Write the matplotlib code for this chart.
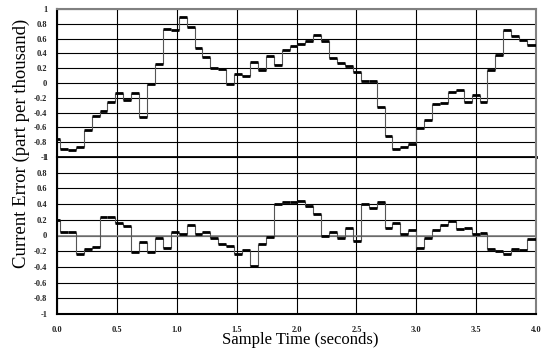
import numpy as np
import matplotlib
matplotlib.use("Agg")
import matplotlib.pyplot as plt

# sampling schedule of the stepped signal (seconds)
step_start = 0.025
step_len = 0.0661
t_end = 4.0

# top panel: step levels (part per thousand)
top_levels = [-0.754,
              -0.89, -0.91, -0.87, -0.63, -0.45, -0.38, -0.25, -0.135, -0.225, -0.135,
              -0.465, -0.01, 0.26, 0.73, 0.71, 0.894, 0.754, 0.474, 0.352, 0.203,
              0.195, -0.02, 0.122, 0.09, 0.284, 0.17, 0.36, 0.24, 0.44, 0.497,
              0.53, 0.573, 0.645, 0.564, 0.34, 0.27, 0.226, 0.153, 0.03, 0.03,
              -0.325, -0.72, -0.89, -0.87, -0.826, -0.61, -0.497, -0.284, -0.27, -0.122,
              -0.09, -0.25, -0.158, -0.26, 0.17, 0.375, 0.71, 0.64, 0.587, 0.51]

# bottom panel: step levels (part per thousand)
bottom_levels = [0.2,
                 0.043, 0.043, -0.24, -0.17, -0.15, 0.234, 0.234, 0.157, 0.12, -0.21,
                 -0.085, -0.21, -0.03, -0.16, 0.04, 0.02, 0.14, 0.02, 0.04, -0.034,
                 -0.105, -0.14, -0.234, -0.19, -0.39, -0.106, -0.02, 0.396, 0.425, 0.43,
                 0.44, 0.375, 0.27, 0.0, 0.04, -0.035, 0.1, -0.065, 0.40, 0.35,
                 0.43, 0.1, 0.16, 0.02, 0.064, -0.16, -0.03, 0.064, 0.128, 0.19,
                 0.085, 0.1, 0.013, 0.034, -0.17, -0.2, -0.24, -0.17, -0.19, -0.047]

x_ticks = [0.0, 0.5, 1.0, 1.5, 2.0, 2.5, 3.0, 3.5, 4.0]
x_tick_labels = ["0.0", "0.5", "1.0", "1.5", "2.0", "2.5", "3.0", "3.5", "4.0"]
y_ticks = [-1, -0.8, -0.6, -0.4, -0.2, 0, 0.2, 0.4, 0.6, 0.8, 1]
y_tick_labels = ["-1", "-0.8", "-0.6", "-0.4", "-0.2", "0", "0.2", "0.4", "0.6", "0.8", "1"]

x_label = "Sample Time (seconds)"
y_label = "Current Error (part per thousand)"

serif = ["Liberation Serif", "DejaVu Serif"]

W, H = 541, 351
fig = plt.figure(figsize=(W / 100, H / 100), dpi=100)
left = 57 / W
width = 479 / W
ax_top = fig.add_axes([left, 1 - 157 / H, width, 148 / H])
ax_bot = fig.add_axes([left, 1 - 314 / H, width, 157 / H])

n = len(top_levels)
edges = np.concatenate([[0.0], step_start + step_len * np.arange(n - 1), [t_end]])


def draw(ax, levels):
    levels = np.asarray(levels)
    ax.set_xlim(0, 4.0)
    ax.set_ylim(-1, 1)
    ax.set_xticks(x_ticks)
    ax.set_yticks(y_ticks)
    ax.set_yticklabels(y_tick_labels)
    ax.grid(True, color="black", lw=0.8)
    ax.set_axisbelow(True)
    ax.vlines(edges[1:-1], levels[:-1], levels[1:], color="#555555", lw=0.8, zorder=3)
    ax.hlines(levels, edges[:-1], edges[1:], color="black", lw=2.0, zorder=4)
    ax.tick_params(length=0, pad=7)
    for lab in ax.get_yticklabels() + ax.get_xticklabels():
        lab.set_family(serif)
        lab.set_fontsize(6)
        lab.set_fontweight("bold")
        lab.set_color("#222222")
    ax.spines["left"].set_color("black")
    ax.spines["left"].set_linewidth(1.5)
    ax.spines["right"].set_color("#808080")
    ax.spines["right"].set_linewidth(1.5)


draw(ax_top, top_levels)
draw(ax_bot, bottom_levels)

ax_top.set_xticklabels([])
ax_top.spines["top"].set_color("#808080")
ax_top.spines["top"].set_linewidth(1.5)
ax_top.spines["bottom"].set_color("black")
ax_top.spines["bottom"].set_linewidth(2.0)
ax_bot.spines["top"].set_visible(False)
ax_bot.set_xticklabels(x_tick_labels)
ax_bot.spines["bottom"].set_color("black")
ax_bot.spines["bottom"].set_linewidth(1.5)
ax_bot.tick_params(axis="x", pad=9)
ax_bot.axhline(0, color="#808080", lw=1.2, zorder=2)

fig.text(300 / W, 1 - 340 / H, x_label, family=serif, fontsize=12,
         ha="center", va="center")
fig.text(21 / W, 1 - 143.5 / H, y_label, family=serif, fontsize=13.5,
         ha="center", va="center", rotation=90)

fig.savefig("out.png", dpi=100)
